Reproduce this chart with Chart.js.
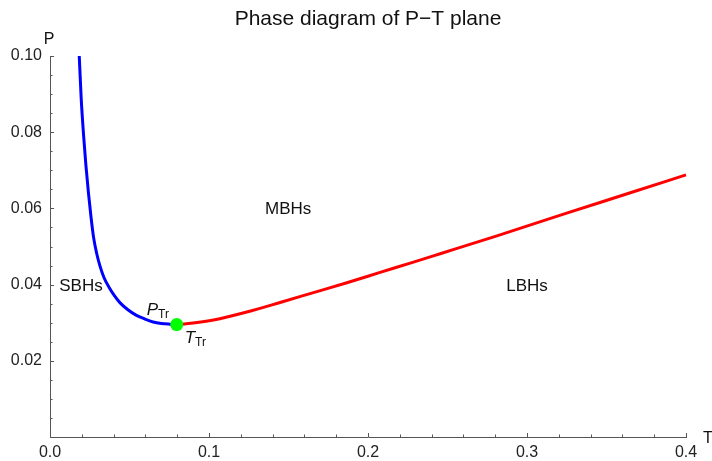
<!DOCTYPE html>
<html>
<head>
<meta charset="utf-8">
<title>Phase diagram of P−T plane</title>
<script src="https://cdn.jsdelivr.net/npm/chart.js@4.4.0/dist/chart.umd.min.js"></script>
<style>
    html, body { margin: 0; padding: 0; background: #fff; }
</style>
</head>
<body>
<canvas id="phaseChart" width="712" height="461"></canvas>
<script>
// axis ticks
const xTicks = [0, 0.1, 0.2, 0.3, 0.4];
const yTicks = [0.02, 0.04, 0.06, 0.08, 0.10];

// SBH / MBH coexistence line (blue)
const blueT = [0.0184, 0.0196, 0.0211, 0.0226, 0.0242, 0.0258, 0.0274, 0.0294, 0.0315, 0.0340,
               0.0371, 0.0405, 0.0441, 0.0490, 0.0541, 0.0595, 0.0648, 0.0700, 0.0755, 0.0797];
const blueP = [0.1000, 0.0890, 0.0793, 0.0712, 0.0640, 0.0577, 0.0524, 0.0481, 0.0448, 0.0418,
               0.0393, 0.0371, 0.0352, 0.0334, 0.0320, 0.0310, 0.0302, 0.0298, 0.0296, 0.0295];

// MBH / LBH coexistence line (red)
const redT = [0.0797, 0.0900, 0.1028, 0.1238, 0.1447, 0.1657, 0.1867, 0.2076, 0.2286, 0.2454, 0.2811, 0.3230, 0.3650, 0.4000];
const redP = [0.0295, 0.0299, 0.0307, 0.0328, 0.0353, 0.0379, 0.0405, 0.0432, 0.0459, 0.0481, 0.0528, 0.0585, 0.0641, 0.0688];

// triple point
const tripleT = [0.0797];
const tripleP = [0.0295];

// region labels (data coords)
const regionNames = ['SBHs', 'MBHs', 'LBHs'];
const regionT = [0.0195, 0.1498, 0.3000];
const regionP = [0.0396, 0.0597, 0.0396];

const FONT = '"Liberation Sans", Arial, Helvetica, sans-serif';
Chart.defaults.font.family = FONT;

function toPoints(xs, ys) {
    return xs.map((x, i) => ({ x: x, y: ys[i] }));
}

// ticks, labels and title drawn on top of the chart
const decorPlugin = {
    id: 'decor',
    afterDraw(chart) {
        const ctx = chart.ctx;
        const xs = chart.scales.x;
        const ys = chart.scales.y;
        const area = chart.chartArea;

        ctx.save();
        ctx.strokeStyle = '#555';
        ctx.lineWidth = 1;

        // inward ticks on x axis (minor 0.02)
        for (let i = 1; i <= 20; i++) {
            const v = i * 0.02;
            const len = (i % 5 === 0) ? 4 : 2.5;
            const px = Math.round(xs.getPixelForValue(v)) + 0.5;
            ctx.beginPath();
            ctx.moveTo(px, area.bottom);
            ctx.lineTo(px, area.bottom - len);
            ctx.stroke();
        }
        // inward ticks on y axis (minor 0.005)
        for (let i = 1; i <= 20; i++) {
            const v = i * 0.005;
            const len = (i % 4 === 0) ? 4 : 2.5;
            const py = Math.round(ys.getPixelForValue(v)) + 0.5;
            ctx.beginPath();
            ctx.moveTo(area.left, py);
            ctx.lineTo(area.left + len, py);
            ctx.stroke();
        }

        // title
        ctx.fillStyle = '#111';
        ctx.font = '21px ' + FONT;
        ctx.textAlign = 'center';
        ctx.textBaseline = 'alphabetic';
        ctx.fillText('Phase diagram of P\u2212T plane', (area.left + area.right) / 2, 25);

        // axis names
        ctx.font = '16px ' + FONT;
        ctx.fillText('P', area.left - 1, 44);
        ctx.fillText('T', 708, 443);

        // region labels
        ctx.font = '17px ' + FONT;
        ctx.textBaseline = 'middle';
        regionNames.forEach((name, i) => {
            ctx.fillText(name, xs.getPixelForValue(regionT[i]), ys.getPixelForValue(regionP[i]));
        });

        // P_Tr and T_Tr next to the triple point
        const tx = xs.getPixelForValue(tripleT[0]);
        const ty = ys.getPixelForValue(tripleP[0]);
        ctx.textAlign = 'left';
        ctx.textBaseline = 'alphabetic';
        drawSub(ctx, 'P', 'Tr', tx - 30, ty - 10);
        drawSub(ctx, 'T', 'Tr', tx + 8, ty + 18);

        ctx.restore();
    }
};

function drawSub(ctx, main, sub, x, y) {
    ctx.font = 'italic 17px ' + FONT;
    ctx.fillText(main, x, y);
    const w = ctx.measureText(main).width;
    ctx.font = '12px ' + FONT;
    ctx.fillText(sub, x + w, y + 3);
}

const axisFont = { size: 16, family: FONT };

new Chart(document.getElementById('phaseChart'), {
    type: 'scatter',
    data: {
        datasets: [
            {
                label: 'triple point',
                data: toPoints(tripleT, tripleP),
                pointRadius: 6.5,
                pointBackgroundColor: '#00ff00',
                pointBorderWidth: 0,
                order: 0,
                clip: false
            },
            {
                label: 'SBH-MBH',
                data: toPoints(blueT, blueP),
                showLine: true,
                borderColor: '#0000ff',
                borderWidth: 3,
                pointRadius: 0,
                cubicInterpolationMode: 'monotone',
                order: 1,
                clip: false
            },
            {
                label: 'MBH-LBH',
                data: toPoints(redT, redP),
                showLine: true,
                borderColor: '#ff0000',
                borderWidth: 3,
                pointRadius: 0,
                cubicInterpolationMode: 'monotone',
                order: 2,
                clip: false
            }
        ]
    },
    options: {
        responsive: false,
        animation: false,
        devicePixelRatio: 1,
        layout: {
            padding: { top: 56, right: 26, left: 0, bottom: 0 }
        },
        plugins: {
            legend: { display: false },
            tooltip: { enabled: false },
            title: { display: false }
        },
        scales: {
            x: {
                type: 'linear',
                min: 0,
                max: 0.4,
                afterFit: s => { s.height = 24; },
                afterBuildTicks: s => { s.ticks = xTicks.map(v => ({ value: v })); },
                ticks: {
                    callback: v => v.toFixed(1),
                    font: axisFont,
                    color: '#222',
                    padding: 6,
                    maxRotation: 0,
                    autoSkip: false
                },
                grid: { display: false, drawTicks: false },
                border: { display: true, color: '#555', width: 1 }
            },
            y: {
                type: 'linear',
                min: 0,
                max: 0.1,
                afterFit: s => { s.width = 50; },
                afterBuildTicks: s => { s.ticks = yTicks.map(v => ({ value: v })); },
                ticks: {
                    callback: v => v.toFixed(2),
                    font: axisFont,
                    color: '#222',
                    padding: 8,
                    autoSkip: false
                },
                grid: { display: false, drawTicks: false },
                border: { display: true, color: '#555', width: 1 }
            }
        }
    },
    plugins: [decorPlugin]
});
</script>
</body>
</html>
